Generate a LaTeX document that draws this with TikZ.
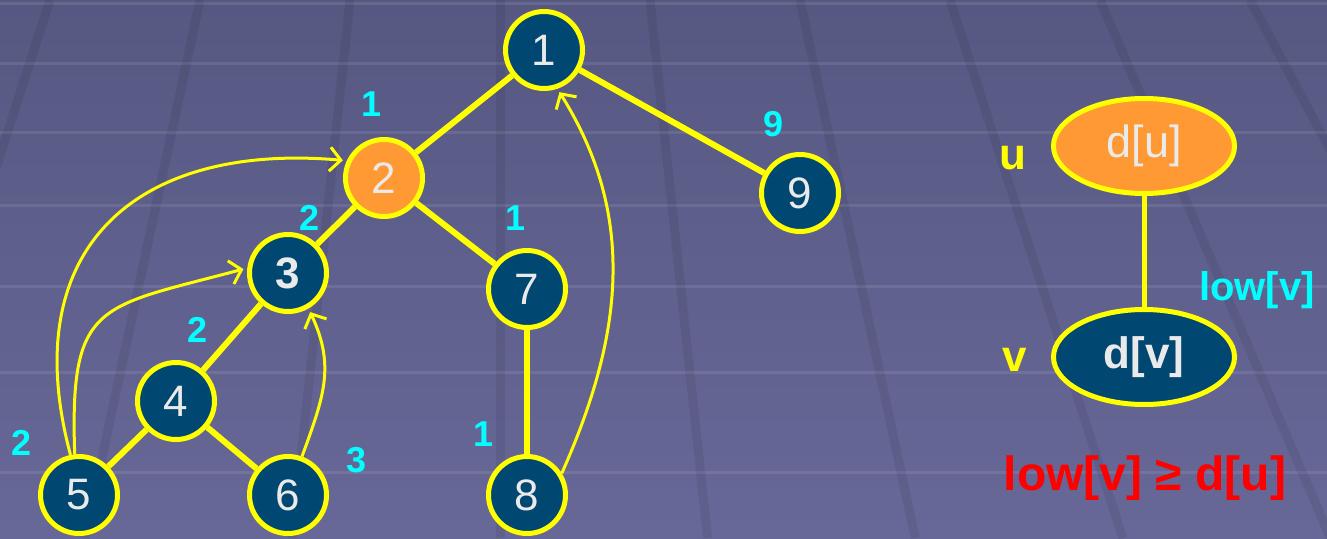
\documentclass[tikz,border=0pt]{standalone}
\usepackage{fontspec}
\setmainfont{Liberation Sans}
\usetikzlibrary{shapes.geometric,arrows.meta}

\definecolor{bgtop}{RGB}{86,88,130}
\definecolor{bgbot}{RGB}{104,104,152}
\definecolor{vblue}{RGB}{0,72,114}
\definecolor{vorange}{RGB}{255,153,51}
\definecolor{vtext}{RGB}{234,234,234}
\definecolor{lowcyan}{RGB}{0,255,255}
\definecolor{hotred}{RGB}{255,0,0}
\definecolor{lineyellow}{RGB}{255,255,0}

\tikzset{
  vertex/.style={circle, draw=lineyellow, line width=5pt, fill=vblue, minimum size=77pt,
    inner sep=0pt, text=vtext, font=\fontsize{44}{44}\selectfont},
  treeedge/.style={draw=lineyellow, line width=6pt},
  backedge/.style={draw=lineyellow, line width=3pt, shorten >=4pt,
    -{Straight Barb[length=11pt,width=24pt]}},
  lowlbl/.style={text=lowcyan, font=\bfseries\fontsize{36}{36}\selectfont},
  keynode/.style={ellipse, draw=lineyellow, line width=5pt, minimum width=181pt,
    minimum height=95pt, inner sep=0pt, text=vtext, font=\fontsize{45}{45}\selectfont},
}

\begin{document}
\begin{tikzpicture}[x=1pt,y=-1pt]
% backdrop with its tile lines
\useasboundingbox (0,0) rectangle (1327,538);
\shade[top color=bgtop, bottom color=bgbot] (0,0) rectangle (1327,538);
\foreach \y in {3,63,132,205,286,372,472}
  \draw[white, opacity=0.09, line width=3pt] (0,\y) -- (1327,\y);
\foreach \x in {50,200,...,1400}
  \draw[black, opacity=0.07, line width=9pt] (\x,0) -- ({\x+0.384*(\x-500)},538);

% dfs tree
\node[vertex] (n1) at (544,50) {1};
\node[vertex, fill=vorange] (n2) at (384,178) {2};
\node[vertex, font=\bfseries\fontsize{44}{44}\selectfont] (n3) at (288,273) {3};
\node[vertex] (n4) at (176,401) {4};
\node[vertex] (n5) at (79,495) {5};
\node[vertex] (n6) at (288,495) {6};
\node[vertex] (n7) at (527,289) {7};
\node[vertex] (n8) at (527,495) {8};
\node[vertex] (n9) at (800,193) {9};

\draw[treeedge] (n1) -- (n2);
\draw[treeedge] (n1) -- (n9);
\draw[treeedge] (n2) -- (n3);
\draw[treeedge] (n2) -- (n7);
\draw[treeedge] (n3) -- (n4);
\draw[treeedge] (n4) -- (n5);
\draw[treeedge] (n4) -- (n6);
\draw[treeedge] (n7) -- (n8);

% back edges
\draw[backedge] (n5.102) to[out=105,in=175,looseness=1.35] (n2.155);
\draw[backedge] (n5.96) to[out=92,in=195,looseness=1.55] (n3.173);
\draw[backedge] (n6.70) to[out=70,in=-65,looseness=1.1] (n3.-60);
\draw[backedge] (n8.32) to[out=66,in=-58] (n1.-71);

% low values
\node[lowlbl] (l2) at (372,104) {1};
\node[lowlbl] (l3) at (310,218) {2};
\node[lowlbl] (l4) at (198,330) {2};
\node[lowlbl] (l5) at (22,443) {2};
\node[lowlbl] (l6) at (357,460) {3};
\node[lowlbl] (l7) at (516,218) {1};
\node[lowlbl] (l8) at (484,434) {1};
\node[lowlbl] (l9) at (773,124) {9};

% articulation condition
\node[keynode, fill=vorange] (du) at (1144,146) {d[u]};
\node[keynode, fill=vblue, font=\bfseries\fontsize{44}{44}\selectfont] (dv) at (1144,357) {d[v]};
\draw[lineyellow, line width=5pt] (du) -- (dv);
\node[text=lineyellow, font=\bfseries\fontsize{44}{44}\selectfont] (ulbl) at (1013,158) {u};
\node[text=lineyellow, font=\bfseries\fontsize{44}{44}\selectfont] (vlbl) at (1015,360) {v};
\node[text=lowcyan, font=\bfseries\fontsize{40}{40}\selectfont] (lowv) at (1257,290) {low[v]};
\node[text=hotred, font=\bfseries\fontsize{48}{48}\selectfont] (cond) at (1145,478) {low[v] ≥ d[u]};
\end{tikzpicture}
\end{document}
